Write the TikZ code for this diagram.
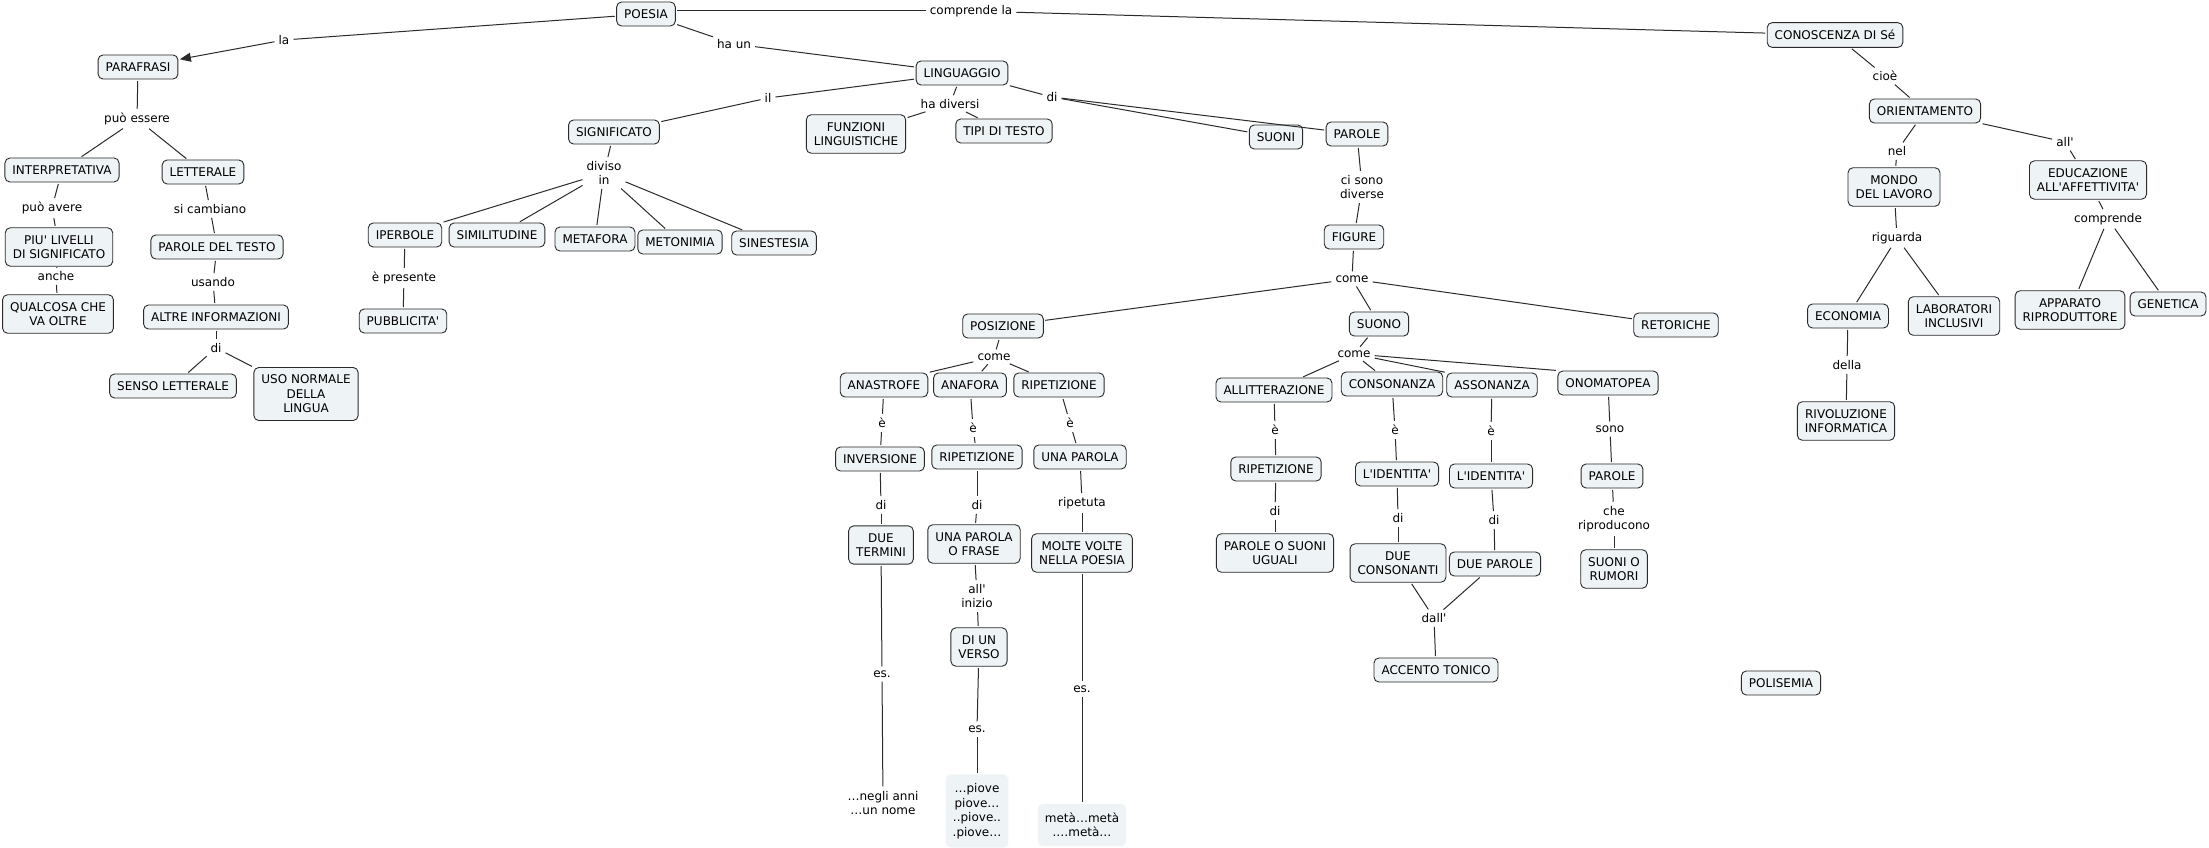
\documentclass[tikz,border=0pt]{standalone}
\usepackage{fontspec}
\setmainfont{DejaVu Sans}[Ligatures=TeXOff]
\usetikzlibrary{arrows.meta}
\definecolor{cfill}{HTML}{EEF3F5}
\definecolor{cline}{HTML}{2B2B2B}
\begin{document}
\begin{tikzpicture}[x=1pt,y=-1pt,
  txt/.style={font=\fontsize{12}{14.5}\selectfont, align=center, text=black},
  concept/.style={txt, draw=cline, fill=cfill, rounded corners=5pt, inner xsep=7.5pt, inner ysep=7.5pt, minimum height=24pt, line width=0.9pt},
  example/.style={txt, fill=cfill, rounded corners=5pt, inner xsep=7pt, inner ysep=9pt},
  plaintext/.style={txt, inner sep=3pt},
  lk/.style={txt, inner sep=2.5pt},
  ln/.style={draw=cline, line width=1pt, shorten <=1.5pt, shorten >=1.5pt},
  arr/.style={ln, -{Triangle[length=11pt,width=9pt]}}]
\useasboundingbox[fill=white] (0,0) rectangle (2209,848);

% ---------- concepts ----------
\node[concept] (poesia) at (646,14) {POESIA};
\node[concept] (parafrasi) at (138,67) {PARAFRASI};
\node[concept] (interp) at (62,170) {INTERPRETATIVA};
\node[concept] (letterale) at (203,172) {LETTERALE};
\node[concept] (livelli) at (59,247) {PIU' LIVELLI\\DI SIGNIFICATO};
\node[concept] (qualcosa) at (58,314) {QUALCOSA CHE\\VA OLTRE};
\node[concept] (paroletesto) at (217,247) {PAROLE DEL TESTO};
\node[concept] (altre) at (216,317) {ALTRE INFORMAZIONI};
\node[concept] (senso) at (173,386) {SENSO LETTERALE};
\node[concept] (uso) at (306,394) {USO NORMALE\\DELLA\\LINGUA};

\node[concept] (linguaggio) at (962,73) {LINGUAGGIO};
\node[concept] (significato) at (614,132) {SIGNIFICATO};
\node[concept] (funzioni) at (856,134) {FUNZIONI\\LINGUISTICHE};
\node[concept] (tipi) at (1004,131) {TIPI DI TESTO};
\node[concept] (suoni) at (1276,137) {SUONI};
\node[concept] (parole) at (1357,134) {PAROLE};
\node[concept] (iperbole) at (405,235) {IPERBOLE};
\node[concept] (similitudine) at (497,235) {SIMILITUDINE};
\node[concept] (metafora) at (595,239) {METAFORA};
\node[concept] (metonimia) at (680,242) {METONIMIA};
\node[concept] (sinestesia) at (774,243) {SINESTESIA};
\node[concept] (pubblicita) at (403,321) {PUBBLICITA'};

\node[concept] (figure) at (1354,237) {FIGURE};
\node[concept] (posizione) at (1003,326) {POSIZIONE};
\node[concept] (suono) at (1379,324) {SUONO};
\node[concept] (retoriche) at (1676,325) {RETORICHE};

\node[concept] (anastrofe) at (884,385) {ANASTROFE};
\node[concept] (anafora) at (970,385) {ANAFORA};
\node[concept] (ripA) at (1059,385) {RIPETIZIONE};
\node[concept] (inversione) at (880,459) {INVERSIONE};
\node[concept] (ripB) at (977,457) {RIPETIZIONE};
\node[concept] (unaparola) at (1080,457) {UNA PAROLA};
\node[concept] (dueterm) at (881,545) {DUE\\TERMINI};
\node[concept] (unaparolaof) at (974,544) {UNA PAROLA\\O FRASE};
\node[concept] (molte) at (1082,553) {MOLTE VOLTE\\NELLA POESIA};
\node[concept] (diunverso) at (979,647) {DI UN\\VERSO};
\node[plaintext] (exA) at (883,803) {…negli anni\\…un nome};
\node[example] (exB) at (977,811) {…piove\\piove…\\..piove..\\.piove…};
\node[example] (exC) at (1082,825) {metà…metà\\.…metà…};

\node[concept] (allitt) at (1274,390) {ALLITTERAZIONE};
\node[concept] (consonanza) at (1392,384) {CONSONANZA};
\node[concept] (assonanza) at (1492,385) {ASSONANZA};
\node[concept] (onomatopea) at (1608,383) {ONOMATOPEA};
\node[concept] (ripC) at (1276,469) {RIPETIZIONE};
\node[concept] (idA) at (1397,474) {L'IDENTITA'};
\node[concept] (idB) at (1491,476) {L'IDENTITA'};
\node[concept] (paroleB) at (1612,476) {PAROLE};
\node[concept] (parolesuoni) at (1275,553) {PAROLE O SUONI\\UGUALI};
\node[concept] (duecons) at (1398,563) {DUE\\CONSONANTI};
\node[concept] (dueparole) at (1495,564) {DUE PAROLE};
\node[concept] (suonirumori) at (1614,569) {SUONI O\\RUMORI};
\node[concept] (accento) at (1436,670) {ACCENTO TONICO};
\node[concept] (polisemia) at (1781,683) {POLISEMIA};

\node[concept] (conoscenza) at (1835,35) {CONOSCENZA DI Sé};
\node[concept] (orientamento) at (1925,111) {ORIENTAMENTO};
\node[concept] (mondo) at (1894,187) {MONDO\\DEL LAVORO};
\node[concept] (educazione) at (2088,180) {EDUCAZIONE\\ALL'AFFETTIVITA'};
\node[concept] (economia) at (1848,316) {ECONOMIA};
\node[concept] (laboratori) at (1954,316) {LABORATORI\\INCLUSIVI};
\node[concept] (apparato) at (2070,310) {APPARATO\\RIPRODUTTORE};
\node[concept] (genetica) at (2168,304) {GENETICA};
\node[concept] (rivoluzione) at (1846,421) {RIVOLUZIONE\\INFORMATICA};

% ---------- linking phrases ----------
\node[lk] (lLa) at (284,40) {la};
\node[lk] (lComprende) at (971,11) {comprende la};
\node[lk] (lHaun) at (734,44) {ha un};
\node[lk] (lPuoEssere) at (137,119) {può essere};
\node[lk] (lPuoAvere) at (52,208) {può avere};
\node[lk] (lAnche) at (56,276) {anche};
\node[lk] (lSiCamb) at (210,209) {si cambiano};
\node[lk] (lUsando) at (213,282) {usando};
\node[lk] (lDiA) at (216,348) {di};
\node[lk] (lIl) at (768,98) {il};
\node[lk] (lHaDiv) at (950,104) {ha diversi};
\node[lk] (lDiB) at (1052,97) {di};
\node[lk] (lDiviso) at (604,173) {diviso\\in};
\node[lk] (lPresente) at (404,278) {è presente};
\node[lk] (lCiSono) at (1362,187) {ci sono\\diverse};
\node[lk] (lComeA) at (1352,279) {come};
\node[lk] (lComeB) at (994,357) {come};
\node[lk] (lEA) at (882,423) {è};
\node[lk] (lEB) at (973,428) {è};
\node[lk] (lEC) at (1070,423) {è};
\node[lk] (lDiC) at (881,505) {di};
\node[lk] (lDiD) at (977,505) {di};
\node[lk] (lRipetuta) at (1082,503) {ripetuta};
\node[lk] (lAllInizio) at (977,596) {all'\\inizio};
\node[lk] (lEsA) at (882,674) {es.};
\node[lk] (lEsB) at (977,729) {es.};
\node[lk] (lEsC) at (1082,689) {es.};
\node[lk] (lComeC) at (1354,354) {come};
\node[lk] (lED) at (1275,430) {è};
\node[lk] (lEE) at (1395,430) {è};
\node[lk] (lEF) at (1491,431) {è};
\node[lk] (lSono) at (1610,429) {sono};
\node[lk] (lDiE) at (1275,511) {di};
\node[lk] (lDiF) at (1398,518) {di};
\node[lk] (lDiG) at (1494,520) {di};
\node[lk] (lChe) at (1614,519) {che\\riproducono};
\node[lk] (lDall) at (1434,618) {dall'};
\node[lk] (lCioe) at (1885,76) {cioè};
\node[lk] (lNel) at (1897,151) {nel};
\node[lk] (lAll) at (2065,142) {all'};
\node[lk] (lRiguarda) at (1897,238) {riguarda};
\node[lk] (lComprendeB) at (2108,219) {comprende};
\node[lk] (lDella) at (1847,365) {della};

% ---------- connectors ----------
\draw[ln] (poesia) -- (lLa);
\draw[arr] (lLa) -- (parafrasi);
\draw[ln] (poesia.east |- 0,11) -- (lComprende);
\draw[ln] (lComprende) -- (conoscenza);
\draw[ln] (poesia) -- (lHaun);
\draw[ln] (lHaun) -- (linguaggio);

\draw[ln] (parafrasi) -- (lPuoEssere);
\draw[ln] (lPuoEssere) -- (interp);
\draw[ln] (lPuoEssere) -- (letterale);
\draw[ln] (interp) -- (lPuoAvere);
\draw[ln] (lPuoAvere) -- (livelli);
\draw[ln] (livelli) -- (lAnche);
\draw[ln] (lAnche) -- (qualcosa);
\draw[ln] (letterale) -- (lSiCamb);
\draw[ln] (lSiCamb) -- (paroletesto);
\draw[ln] (paroletesto) -- (lUsando);
\draw[ln] (lUsando) -- (altre);
\draw[ln] (altre) -- (lDiA);
\draw[ln] (lDiA) -- (senso);
\draw[ln] (lDiA) -- (uso);

\draw[ln] (linguaggio) -- (lIl);
\draw[ln] (lIl) -- (significato);
\draw[ln] (linguaggio) -- (lHaDiv);
\draw[ln] (lHaDiv) -- (funzioni);
\draw[ln] (lHaDiv) -- (tipi);
\draw[ln] (linguaggio) -- (lDiB);
\draw[ln] (lDiB) -- (suoni);
\draw[ln] (lDiB) -- (parole);
\draw[ln] (significato) -- (lDiviso);
\draw[ln] (lDiviso) -- (iperbole.north east);
\draw[ln] (lDiviso) -- (similitudine);
\draw[ln] (lDiviso) -- (metafora);
\draw[ln] (lDiviso) -- (metonimia);
\draw[ln] (lDiviso) -- (sinestesia);
\draw[ln] (iperbole) -- (lPresente);
\draw[ln] (lPresente) -- (pubblicita);

\draw[ln] (parole) -- (lCiSono);
\draw[ln] (lCiSono) -- (figure);
\draw[ln] (figure) -- (lComeA);
\draw[ln] (lComeA) -- (posizione);
\draw[ln] (lComeA) -- (suono);
\draw[ln] (lComeA) -- (retoriche);

\draw[ln] (posizione) -- (lComeB);
\draw[ln] (lComeB) -- (anastrofe.north east);
\draw[ln] (lComeB) -- (anafora);
\draw[ln] (lComeB) -- (ripA);
\draw[ln] (anastrofe) -- (lEA);
\draw[ln] (lEA) -- (inversione);
\draw[ln] (anafora) -- (lEB);
\draw[ln] (lEB) -- (ripB);
\draw[ln] (ripA) -- (lEC);
\draw[ln] (lEC) -- (unaparola);
\draw[ln] (inversione) -- (lDiC);
\draw[ln] (lDiC) -- (dueterm);
\draw[ln] (ripB) -- (lDiD);
\draw[ln] (lDiD) -- (unaparolaof);
\draw[ln] (unaparola) -- (lRipetuta);
\draw[ln] (lRipetuta) -- (molte);
\draw[ln] (unaparolaof) -- (lAllInizio);
\draw[ln] (lAllInizio) -- (diunverso);
\draw[ln] (dueterm) -- (lEsA);
\draw[ln] (lEsA) -- (exA);
\draw[ln] (diunverso) -- (lEsB);
\draw[ln] (lEsB) -- (exB);
\draw[ln] (molte) -- (lEsC);
\draw[ln] (lEsC) -- (exC);

\draw[ln] (suono) -- (lComeC);
\draw[ln] (lComeC) -- (allitt);
\draw[ln] (lComeC) -- (consonanza);
\draw[ln] (lComeC) -- (assonanza.north west);
\draw[ln] (lComeC) -- (onomatopea.north west);
\draw[ln] (allitt) -- (lED);
\draw[ln] (lED) -- (ripC);
\draw[ln] (consonanza) -- (lEE);
\draw[ln] (lEE) -- (idA);
\draw[ln] (assonanza) -- (lEF);
\draw[ln] (lEF) -- (idB);
\draw[ln] (onomatopea) -- (lSono);
\draw[ln] (lSono) -- (paroleB);
\draw[ln] (ripC) -- (lDiE);
\draw[ln] (lDiE) -- (parolesuoni);
\draw[ln] (idA) -- (lDiF);
\draw[ln] (lDiF) -- (duecons);
\draw[ln] (idB) -- (lDiG);
\draw[ln] (lDiG) -- (dueparole);
\draw[ln] (paroleB) -- (lChe);
\draw[ln] (lChe) -- (suonirumori);
\draw[ln] (duecons) -- (lDall);
\draw[ln] (dueparole) -- (lDall);
\draw[ln] (lDall) -- (accento);

\draw[ln] (conoscenza) -- (lCioe);
\draw[ln] (lCioe) -- (orientamento);
\draw[ln] (orientamento) -- (lNel);
\draw[ln] (lNel) -- (mondo);
\draw[ln] (orientamento) -- (lAll);
\draw[ln] (lAll) -- (educazione);
\draw[ln] (mondo) -- (lRiguarda);
\draw[ln] (lRiguarda) -- (economia);
\draw[ln] (lRiguarda) -- (laboratori);
\draw[ln] (educazione) -- (lComprendeB);
\draw[ln] (lComprendeB) -- (apparato);
\draw[ln] (lComprendeB) -- (genetica);
\draw[ln] (economia) -- (lDella);
\draw[ln] (lDella) -- (rivoluzione);
\end{tikzpicture}
\end{document}
